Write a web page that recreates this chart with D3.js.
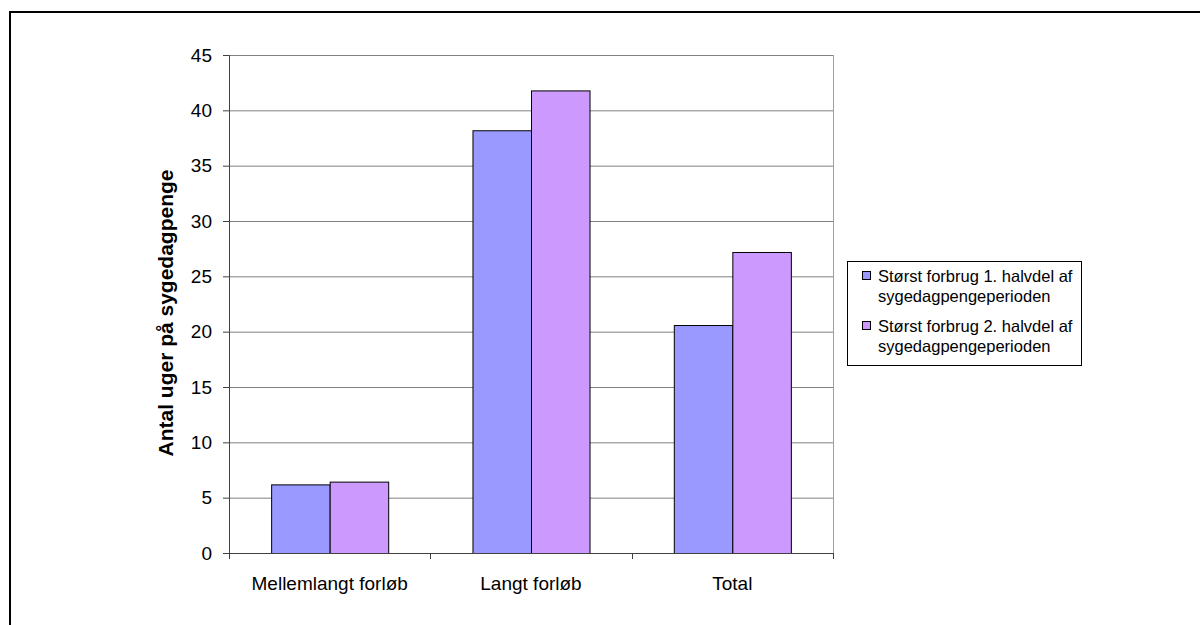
<!DOCTYPE html>
<html>
<head>
<meta charset="utf-8">
<script src="https://cdn.jsdelivr.net/npm/d3@7"></script>
<style>
  body { margin: 0; background: #fff; }
  text { font-family: "Liberation Sans", Arial, sans-serif; }
</style>
</head>
<body>
<div id="chart"></div>
<script>
const categories = ["Mellemlangt forløb", "Langt forløb", "Total"];
const seriesNames = [
    ["Størst forbrug 1. halvdel af", "sygedagpengeperioden"],
    ["Størst forbrug 2. halvdel af", "sygedagpengeperioden"]
];
const first = [6.2, 38.2, 20.6];
const second = [6.45, 41.8, 27.2];
const yTicks = [0, 5, 10, 15, 20, 25, 30, 35, 40, 45];
const colors = ["#9999ff", "#cc99ff"];

const width = 1200;
const height = 625;
const plot = { left: 229, right: 833, top: 55, bottom: 553 };

const svg = d3.select("#chart")
    .append("svg")
    .attr("width", width)
    .attr("height", height);

// outer frame (runs off the right and bottom edge)
svg.append("rect")
    .attr("x", 10).attr("y", 12)
    .attr("width", 1200).attr("height", 700)
    .attr("fill", "none")
    .attr("stroke", "#000")
    .attr("stroke-width", 2);

const x0 = d3.scaleBand()
    .domain(categories)
    .range([plot.left, plot.right]);

const x1 = d3.scaleBand()
    .domain([0, 1])
    .range([0, x0.bandwidth()])
    .paddingOuter(0.72);

const y = d3.scaleLinear()
    .domain([0, 45])
    .range([plot.bottom, plot.top]);

// gridlines
svg.append("g")
    .selectAll("line")
    .data(yTicks.filter(d => d > 0))
    .join("line")
    .attr("x1", plot.left).attr("x2", plot.right)
    .attr("y1", d => y(d) + 0.5).attr("y2", d => y(d) + 0.5)
    .attr("stroke", "#808080")
    .attr("stroke-width", 1);

// right border of plot area
svg.append("line")
    .attr("x1", plot.right + 0.5).attr("x2", plot.right + 0.5)
    .attr("y1", plot.top).attr("y2", plot.bottom)
    .attr("stroke", "#a0a0a0");

// bars
const groups = svg.append("g")
    .selectAll("g")
    .data(categories)
    .join("g")
    .attr("transform", d => `translate(${x0(d)},0)`);

groups.selectAll("rect")
    .data((d, i) => [first[i], second[i]])
    .join("rect")
    .attr("x", (d, j) => x1(j) + 0.5)
    .attr("y", d => y(d) + 0.5)
    .attr("width", x1.bandwidth())
    .attr("height", d => plot.bottom - y(d))
    .attr("fill", (d, j) => colors[j])
    .attr("stroke", "#000")
    .attr("stroke-width", 1);

// y axis
const yAxis = svg.append("g")
    .attr("transform", `translate(${plot.left},0)`)
    .call(d3.axisLeft(y).tickValues(yTicks).tickSize(6).tickPadding(11));
yAxis.select(".domain").attr("stroke", "#404040");
yAxis.selectAll(".tick line").attr("stroke", "#404040");
yAxis.selectAll("text")
    .attr("font-size", 19)
    .attr("fill", "#000");

// x axis
const xAxis = svg.append("g")
    .attr("transform", `translate(0,${plot.bottom})`)
    .call(d3.axisBottom(x0).tickSize(0).tickPadding(24));
xAxis.select(".domain").attr("stroke", "#404040");
xAxis.selectAll("text")
    .attr("font-size", 19)
    .attr("fill", "#000");

// category separators
svg.append("g")
    .selectAll("line")
    .data([plot.left, ...categories.map(c => x0(c) + x0.bandwidth())])
    .join("line")
    .attr("x1", d => Math.round(d) + 0.5).attr("x2", d => Math.round(d) + 0.5)
    .attr("y1", plot.bottom).attr("y2", plot.bottom + 6)
    .attr("stroke", "#404040");

// y title
svg.append("text")
    .attr("transform", "translate(173,313) rotate(-90)")
    .attr("text-anchor", "middle")
    .attr("font-size", 21)
    .attr("font-weight", "bold")
    .text("Antal uger på sygedagpenge");

// legend
const legend = svg.append("g");
legend.append("rect")
    .attr("x", 847.5).attr("y", 261.5)
    .attr("width", 234).attr("height", 104)
    .attr("fill", "#fff")
    .attr("stroke", "#000");

seriesNames.forEach((lines, i) => {
    const top = 276 + i * 50;
    legend.append("rect")
        .attr("x", 862.5).attr("y", top - 4.5)
        .attr("width", 8).attr("height", 8)
        .attr("fill", colors[i])
        .attr("stroke", "#000");
    lines.forEach((t, k) => {
        legend.append("text")
            .attr("x", 878)
            .attr("y", top + k * 20 + 6)
            .attr("font-size", 16.5)
            .text(t);
    });
});
</script>
</body>
</html>
